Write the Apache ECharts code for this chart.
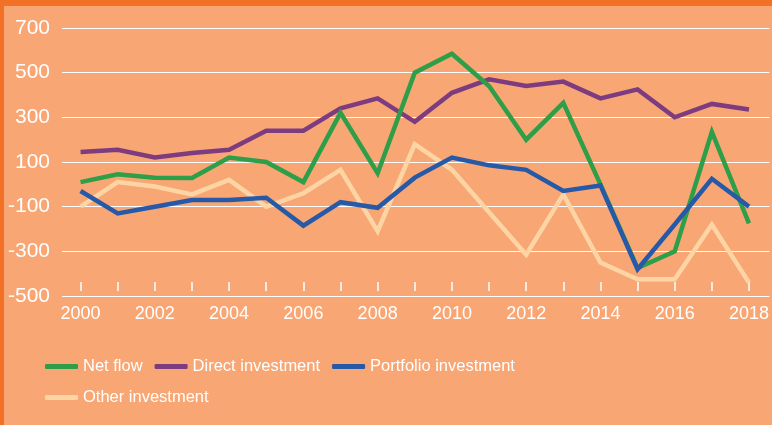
<!DOCTYPE html>
<html>
<head>
<meta charset="utf-8">
<script src="https://cdn.jsdelivr.net/npm/echarts@6/dist/echarts.min.js"></script>
<style>
  html, body { margin: 0; padding: 0; background: #f8a673; }
  #wrap { position: relative; width: 772px; height: 425px; overflow: hidden; }
  #chart { width: 772px; height: 425px; }
  .bar-top { position: absolute; left: 0; top: 0; width: 772px; height: 6px; background: #f27127; }
  .bar-left { position: absolute; left: 0; top: 0; width: 4px; height: 425px; background: #f27127; }
</style>
</head>
<body>
<div id="wrap">
  <div id="chart"></div>
  <div class="bar-top"></div>
  <div class="bar-left"></div>
</div>
<script>
// years on the x axis
const years = [2000, 2001, 2002, 2003, 2004, 2005, 2006, 2007, 2008, 2009,
               2010, 2011, 2012, 2013, 2014, 2015, 2016, 2017, 2018];
const labelYears = [2000, 2002, 2004, 2006, 2008, 2010, 2012, 2014, 2016, 2018];

// values
const netFlow = [10, 45, 30, 28, 120, 100, 10, 320, 50, 500,
                 585, 440, 200, 365, 0, -375, -300, 235, -175];
const directInvestment = [145, 155, 120, 140, 155, 240, 240, 340, 385, 280,
                          410, 470, 440, 460, 385, 425, 300, 360, 335];
const portfolioInvestment = [-30, -130, -100, -70, -70, -60, -185, -80, -105, 30,
                             120, 85, 65, -30, -5, -380, -180, 25, -100];
const otherInvestment = [-100, 10, -10, -45, 20, -100, -40, 65, -210, 180,
                         65, -125, -315, -45, -350, -425, -425, -180, -440];

const yTicks = { min: -500, max: 700, step: 200 };

const chart = echarts.init(document.getElementById('chart'));

const pairs = (vals) => years.map((y, i) => [y, vals[i]]);

const line = (name, vals, color) => ({
  name: name,
  type: 'line',
  data: pairs(vals),
  symbol: 'none',
  lineStyle: { color: color, width: 4.5, join: 'miter' },
  itemStyle: { color: color },
});

const font = '"Liberation Sans", Arial, sans-serif';

chart.setOption({
  backgroundColor: '#f8a673',
  animation: false,
  grid: { left: 62, right: 0, top: 28, bottom: 129 },
  legend: {
    data: ['Net flow', 'Direct investment', 'Portfolio investment', 'Other investment'],
    left: 40,
    top: 352,
    width: 490,
    itemWidth: 33,
    itemHeight: 5,
    itemGap: 12,
    icon: 'roundRect',
    textStyle: { color: '#fff', fontSize: 16.5, lineHeight: 19, fontFamily: font },
  },
  xAxis: {
    type: 'value',
    min: 1999.5,
    max: 2018.55,
    offset: -5,
    axisLine: { show: false, onZero: false },
    axisTick: {
      show: true,
      inside: true,
      length: 9,
      customValues: years,
      lineStyle: { color: '#fff', width: 1.5 },
    },
    axisLabel: {
      customValues: labelYears,
      color: '#fff',
      fontSize: 18,
      fontFamily: font,
      margin: 14,
      formatter: (v) => String(v),
    },
    splitLine: { show: false },
  },
  yAxis: {
    type: 'value',
    min: yTicks.min,
    max: yTicks.max,
    interval: yTicks.step,
    axisLine: { show: false },
    axisTick: { show: false },
    axisLabel: {
      color: '#fff',
      fontSize: 21,
      fontFamily: font,
      margin: 12,
    },
    splitLine: { lineStyle: { color: '#fff', width: 1.2 } },
  },
  series: [
    line('Direct investment', directInvestment, '#7d3c80'),
    line('Net flow', netFlow, '#2e9e48'),
    line('Other investment', otherInvestment, '#fdd5a5'),
    line('Portfolio investment', portfolioInvestment, '#2659a8'),
  ],
});
</script>
</body>
</html>
